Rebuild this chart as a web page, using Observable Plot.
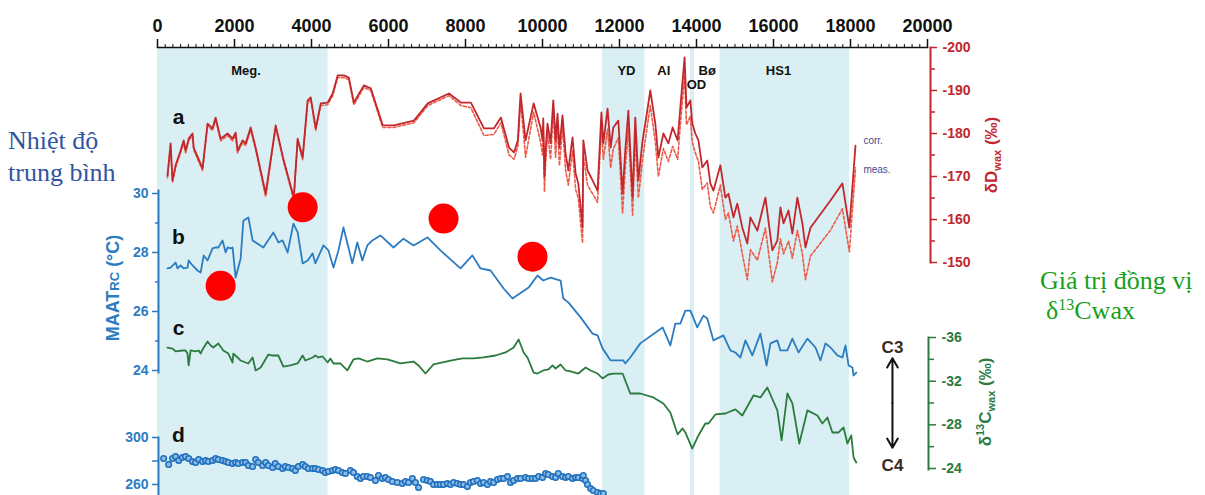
<!DOCTYPE html>
<html lang="vi">
<head>
<meta charset="utf-8">
<script src="https://cdn.jsdelivr.net/npm/d3@7"></script>
<script src="https://cdn.jsdelivr.net/npm/@observablehq/plot@0.6"></script>
<style>
html,body{margin:0;padding:0;background:#fff;}
#chart{position:relative;width:1205px;height:495px;overflow:hidden;background:#fff;}
#chart svg{position:absolute;left:0;top:0;}
.note{position:absolute;font-family:"Liberation Serif","Times New Roman",serif;font-size:26px;line-height:32px;white-space:nowrap;}
</style>
</head>
<body>
<div id="chart"></div>
<script>
// ---------------- DATA ----------------
// Shaded periods (years BP)
const bandStart = [0, 11560, 13840, 14610];
const bandEnd   = [4430, 12660, 13950, 17975];
const periodLabels = ["Meg.", "YD", "AI", "Bø", "HS1"];
const periodYears  = [2300, 12180, 13150, 14280, 16130];
const odLabel = "OD";
const odYear = 14000;

// (a) δD wax, corrected and measured
const redYear = [260,340,390,470,600,680,730,810,910,940,
  1170,1300,1430,1510,1640,1820,1950,2030,2080,2210,
  2290,2420,2550,2810,3070,3280,3540,3640,3770,3900,
  3980,4110,4240,4420,4550,4680,4840,4970,5100,5360,
  5540,5850,6140,6660,7020,7570,7880,8140,8480,8740,
  8920,9130,9260,9360,9430,9560,9770,9950,10000,10020,
  10050,10080,10130,10210,10280,10340,10390,10440,10520,10600,
  10670,10780,10860,10930,11040,11060,11170,11300,11430,11530,
  11580,11690,11770,11840,11970,12080,12150,12230,12340,12410,
  12490,12600,12670,12800,12930,13010,13140,13270,13380,13510,
  13580,13690,13740,13840,13890,13970,14050,14150,14280,14360,
  14440,14620,14750,14830,14960,15060,15190,15320,15400,15580,
  15790,15970,16100,16180,16260,16390,16490,16620,16750,16830,
  16960,17480,17790,17970,18130];
const redCorr = [-170.2,-177.7,-169.1,-172.6,-176.0,-178.4,-176.0,-178.8,-180.0,-176.7,
  -171.9,-182.3,-181.2,-183.7,-178.8,-180.0,-178.8,-180.2,-176.0,-178.4,
  -177.7,-181.4,-176.7,-166.0,-181.9,-173.7,-165.1,-178.8,-174.4,-187.7,
  -188.4,-181.2,-187.0,-187.2,-189.3,-193.5,-193.5,-193.0,-187.2,-191.2,
  -190.5,-181.9,-181.9,-183.0,-187.0,-189.3,-187.2,-187.2,-181.2,-181.2,
  -183.7,-176.7,-175.6,-178.4,-189.3,-178.4,-187.0,-181.4,-178.4,-183.5,
  -170.0,-176.0,-182.3,-177.7,-187.7,-178.4,-184.6,-176.7,-184.2,-175.3,
  -171.4,-179.1,-170.7,-168.4,-158.1,-178.4,-171.4,-169.1,-166.7,-184.9,
  -177.7,-185.8,-176.7,-181.4,-183.0,-166.0,-176.0,-185.3,-165.1,-183.7,
  -169.1,-178.4,-182.3,-190.0,-182.3,-174.4,-180.0,-177.7,-181.4,-178.4,
  -186.0,-197.7,-186.0,-187.7,-182.3,-180.0,-178.4,-172.1,-173.7,-168.4,
  -166.7,-172.6,-165.1,-166.0,-160.5,-163.7,-158.1,-154.4,-160.5,-157.4,
  -165.1,-152.8,-155.1,-162.8,-159.1,-162.1,-156.7,-165.1,-159.1,-153.5,
  -158.1,-164.4,-168.4,-158.1,-177.2];
const redMeas = [-169.7,-177.2,-168.6,-172.1,-175.5,-177.9,-175.5,-178.3,-179.5,-176.2,
  -171.4,-181.8,-180.7,-183.2,-178.3,-179.5,-178.3,-179.7,-175.5,-177.9,
  -177.2,-180.9,-176.2,-165.3,-181.4,-173.2,-164.6,-178.3,-173.9,-187.2,
  -187.9,-180.7,-186.5,-186.7,-188.8,-193.0,-193.0,-192.5,-186.7,-190.7,
  -190.0,-181.4,-181.4,-182.5,-186.5,-188.8,-186.5,-186.0,-179.5,-179.8,
  -182.5,-175.0,-174.0,-177.0,-187.5,-174.5,-185.0,-178.0,-175.0,-181.0,
  -166.5,-173.0,-180.0,-174.0,-185.5,-174.5,-182.0,-172.5,-181.5,-171.5,
  -168.0,-176.0,-167.0,-165.0,-154.5,-175.0,-168.0,-166.0,-164.0,-181.5,
  -174.0,-181.0,-172.0,-176.5,-179.0,-161.5,-172.0,-181.0,-161.0,-179.0,
  -165.0,-174.0,-178.5,-186.5,-178.0,-170.0,-176.5,-173.5,-177.0,-174.0,
  -182.0,-193.5,-182.0,-184.0,-178.0,-175.5,-173.5,-167.0,-168.5,-163.0,
  -161.5,-168.0,-160.0,-161.5,-155.0,-158.5,-152.0,-146.0,-153.0,-150.5,
  -158.0,-145.5,-150.0,-155.5,-152.0,-155.0,-151.0,-157.5,-152.0,-146.0,
  -151.5,-157.5,-162.5,-152.5,-172.0];

// (b) MAAT_RC (°C)
const blueYear = [260,340,470,520,600,680,780,810,910,1040,
  1120,1200,1300,1430,1510,1580,1690,1770,1820,1900,
  1950,2030,2160,2230,2360,2470,2750,3010,3140,3250,
  3380,3530,3640,3770,3900,4030,4100,4310,4440,4570,
  4700,4830,4960,5060,5190,5320,5450,5580,5790,6130,
  6390,6650,7010,7350,7870,8180,8390,8650,8990,9220,
  9640,9870,10020,10210,10470,10540,10670,10990,11300,11430,
  11560,11770,12100,12150,12280,12540,13120,13320,13450,13580,
  13710,13840,14020,14180,14280,14440,14700,14880,15010,15140,
  15270,15450,15660,15820,15920,16100,16180,16360,16490,16650,
  16880,17090,17220,17350,17480,17660,17790,17870,17950,18050,
  18080,18150];
const blueMaat = [27.46,27.49,27.66,27.46,27.56,27.46,27.49,27.73,27.56,27.39,
  27.32,27.90,27.73,28.14,28.17,28.17,28.41,28.00,28.17,28.14,
  28.17,27.15,27.80,29.08,29.19,28.41,28.17,28.68,28.34,28.41,
  28.00,28.98,28.68,27.63,27.73,27.97,27.63,28.24,28.07,27.49,
  28.07,28.85,28.17,27.63,28.34,27.73,28.24,28.41,28.58,28.17,
  28.47,28.24,28.51,28.07,27.46,27.90,27.46,27.39,26.78,26.44,
  26.81,27.22,27.05,27.15,27.05,26.44,26.31,25.80,25.25,25.19,
  24.75,24.34,24.34,24.24,24.44,24.92,25.46,24.85,25.59,25.59,
  26.03,26.03,25.46,25.86,25.76,25.02,25.19,24.68,24.61,24.44,
  25.02,24.51,25.25,24.17,24.92,25.02,24.68,24.68,25.08,24.61,
  25.08,24.78,24.34,24.92,24.78,24.51,24.44,24.85,24.17,24.10,
  23.83,23.93];

// (c) δ13C wax (‰)
const greenYear = [260,390,470,650,730,780,810,860,990,1070,
  1120,1170,1300,1380,1450,1580,1710,1840,1950,1970,
  2080,2160,2290,2360,2470,2550,2680,2880,2990,3140,
  3270,3450,3640,3770,3840,4030,4100,4180,4290,4420,
  4490,4570,4750,4930,5090,5220,5450,5710,5970,6310,
  6650,6780,6960,7170,7610,7920,8210,8470,8780,9040,
  9250,9380,9510,9610,9770,9870,10020,10150,10260,10340,
  10470,10600,10730,10930,11120,11250,11430,11560,11710,11840,
  12080,12280,12540,12880,13140,13320,13510,13640,13710,13890,
  14050,14230,14310,14490,14750,15010,15190,15480,15660,15840,
  16100,16210,16360,16490,16670,16880,17140,17270,17400,17530,
  17690,17820,17920,18020,18080,18150];
const greenD13C = [-35.08,-34.99,-34.72,-34.81,-34.81,-34.53,-33.44,-34.81,-34.72,-34.81,
  -34.53,-34.90,-35.63,-35.27,-35.08,-35.45,-34.81,-34.53,-33.71,-34.53,
  -34.17,-33.89,-33.71,-33.62,-34.17,-32.98,-33.25,-34.44,-34.35,-34.35,
  -33.34,-33.44,-33.62,-34.35,-33.89,-34.17,-34.35,-34.17,-34.26,-33.71,
  -34.08,-33.62,-33.62,-32.98,-33.99,-34.08,-33.80,-34.08,-33.99,-33.62,
  -33.80,-33.44,-32.70,-33.53,-33.89,-34.08,-34.08,-34.17,-34.35,-34.63,
  -35.08,-35.82,-34.63,-34.17,-32.79,-32.70,-32.98,-33.07,-33.44,-33.16,
  -33.53,-32.98,-32.89,-32.70,-33.25,-32.98,-32.70,-32.25,-32.61,-32.70,
  -32.70,-30.87,-30.87,-30.51,-29.96,-29.13,-27.12,-27.67,-27.30,-25.83,
  -27.03,-28.12,-28.12,-28.95,-29.04,-29.41,-28.86,-30.69,-30.51,-31.42,
  -29.32,-26.57,-30.87,-29.96,-26.29,-29.32,-28.86,-28.12,-28.67,-27.30,
  -27.30,-27.76,-26.29,-27.03,-25.01,-24.55];

// (d) dotted record
const dYear = [160,290,390,470,550,650,730,810,910,990,
  1070,1170,1250,1320,1430,1510,1580,1690,1770,1840,
  1950,2030,2100,2210,2290,2360,2470,2550,2620,2730,
  2810,2880,2990,3060,3140,3250,3320,3400,3510,3580,
  3660,3770,3840,3920,4030,4100,4180,4290,4360,4440,
  4550,4620,4700,4800,4880,5010,5090,5190,5270,5350,
  5450,5530,5660,5740,5840,5920,6000,6100,6230,6360,
  6440,6520,6620,6700,6780,6910,7010,7090,7170,7270,
  7350,7430,7530,7610,7690,7790,7870,7950,8050,8130,
  8210,8310,8390,8470,8570,8650,8730,8830,8910,8990,
  9090,9170,9250,9350,9430,9560,9640,9740,9820,9900,
  10000,10080,10150,10260,10340,10410,10520,10600,10670,10780,
  10860,10930,11040,11060,11120,11170,11250,11320,11430,11510,11580];
const dValue = [282.1,277.0,282.1,283.8,280.4,283.0,283.8,282.1,279.6,278.7,
  281.3,279.6,280.4,279.6,280.4,282.1,281.3,280.4,279.6,278.7,
  277.9,278.7,277.9,278.7,278.7,276.2,275.3,281.3,278.7,276.2,
  278.7,276.2,274.5,277.9,275.3,273.6,275.3,274.5,273.6,271.9,
  275.3,277.0,275.3,273.6,273.6,273.6,272.8,271.9,270.2,271.1,
  271.9,272.8,271.9,270.2,269.4,271.9,270.2,266.8,265.1,266.8,
  266.8,266.0,263.4,267.7,265.1,266.0,264.3,262.6,261.7,260.9,
  262.6,261.7,265.1,261.7,257.4,264.3,263.4,262.6,260.0,260.0,
  260.0,260.0,260.9,260.0,261.7,260.9,260.0,260.0,258.3,261.7,
  262.6,263.4,260.9,261.7,260.0,262.6,261.7,264.3,265.1,265.1,
  266.8,261.7,263.4,265.1,265.1,266.0,265.1,265.1,265.1,266.8,
  266.0,269.4,268.5,266.8,266.0,269.4,266.8,266.0,266.8,265.1,
  266.0,266.0,265.1,267.7,263.4,260.0,256.6,254.9,253.2,252.3,252.3];

// Tick values
const xMajorTicks = [0,2000,4000,6000,8000,10000,12000,14000,16000,18000,20000];
const dDTicks = [-200,-190,-180,-170,-160,-150];
const maatTicks = [24,26,28,30];
const d13CTicks = [-36,-32,-28,-24];
const dTicks = [260,280,300];

// Highlight markers (year, MAAT)
const markYear = [3770, 7430, 9740, 1640];
const markMaat = [29.53, 29.15, 27.86, 26.87];

// ---------------- STYLE / LAYOUT ----------------
const RED = "#c1272d", MEAS = "#ee5a48", BLUE = "#2c7cc1", GREEN = "#2b7a3e",
      BAND = "#d9eff3", INK = "#111", BROWN = "#3b2a20";
const FONT = "'Liberation Sans', Arial, sans-serif";
const W = 1205, H = 495, XL = 157, XR = 927;

const bands = bandStart.map((s, i) => ({start: s, end: bandEnd[i]}));
const periods = periodLabels.map((t, i) => ({x: periodYears[i], t}));
const redData = redYear.map((y, i) => ({year: y, corr: redCorr[i], meas: redMeas[i]}));
const blueData = blueYear.map((y, i) => ({year: y, v: blueMaat[i]}));
const greenData = greenYear.map((y, i) => ({year: y, v: greenD13C[i]}));
const dData = dYear.map((y, i) => ({year: y, v: dValue[i]}));
const marks = markYear.map((y, i) => ({year: y, v: markMaat[i]}));

function layer(o) {
  const xo = Object.assign({domain: [0, 20000], range: [XL, XR], label: null}, o.x || {});
  const opts = Object.assign({
    width: W, height: H,
    style: {background: "transparent", overflow: "visible", fontFamily: FONT}
  }, o);
  opts.x = xo;
  return Plot.plot(opts);
}

function vTitle(svg, x, y, color, size, parts) {
  const t = d3.select(svg).append("text")
    .attr("transform", `translate(${x},${y}) rotate(-90)`)
    .attr("text-anchor", "middle").attr("fill", color)
    .attr("font-weight", "bold").attr("font-size", size)
    .attr("font-family", FONT);
  for (const p of parts) {
    const s = t.append("tspan").text(p.t);
    if (p.size) s.attr("font-size", p.size);
    if (p.dy) s.attr("dy", p.dy);
  }
}

const chart = document.getElementById("chart");

// Base layer: shaded periods + top time axis
const base = layer({
  marginTop: 47, marginBottom: 0, marginLeft: XL, marginRight: W - XR,
  marks: [
    Plot.rect(bands, {x1: "start", x2: "end", fill: BAND}),
    Plot.axisX({anchor: "top", ticks: d3.range(0, 20001, 200), tickSize: 4, tickFormat: () => "", label: null, stroke: INK}),
    Plot.axisX({anchor: "top", ticks: xMajorTicks, tickSize: 9, tickPadding: 7, strokeWidth: 1.5,
      tickFormat: d => String(d), fontSize: 18, fontWeight: "bold", fill: INK, stroke: INK, label: null}),
    Plot.frame({anchor: "top", stroke: INK, strokeWidth: 1.5}),
    Plot.text(periods, {x: "x", text: "t", frameAnchor: "top", dy: 18, fontSize: 13, fontWeight: "bold", fill: INK}),
    Plot.text([odLabel], {x: () => odYear, text: d => d, frameAnchor: "top", dy: 32, fontSize: 13, fontWeight: "bold", fill: INK})
  ]
});
chart.appendChild(base);

// (a) δD layer
const redLayer = layer({
  marginTop: 47, marginBottom: H - 262, marginLeft: XL, marginRight: W - 930,
  x: {axis: null},
  y: {domain: [-200, -150], range: [47, 262]},
  marks: [
    Plot.line(redData, {x: "year", y: "meas", stroke: MEAS, strokeWidth: 1.6, strokeDasharray: "3,2"}),
    Plot.line(redData, {x: "year", y: "corr", stroke: RED, strokeWidth: 1.8}),
    Plot.axisY({anchor: "right", ticks: d3.range(-195, -150, 10), tickSize: 4, tickFormat: () => "", color: RED, strokeWidth: 1.5, label: null}),
    Plot.axisY({anchor: "right", ticks: dDTicks, tickSize: 6, tickPadding: 6, tickFormat: d => String(d),
      fontSize: 14, fontWeight: "bold", color: RED, strokeWidth: 1.5, label: null}),
    Plot.frame({anchor: "right", stroke: RED, strokeWidth: 2}),
    Plot.text(["a"], {x: () => 545, y: () => -183.7, text: d => d, fontSize: 21, fontWeight: "bold", fill: INK}),
    Plot.text(["corr.", "meas."], {x: () => 18335, y: (d, i) => i ? -171.6 : -178.4, text: d => d,
      textAnchor: "start", fontSize: 10, fill: "#4a4a8a"})
  ]
});
vTitle(redLayer, 997, 155, RED, 17, [{t: "δD"}, {t: "wax", size: 11, dy: 4}, {t: " (‰)", dy: -4}]);
chart.appendChild(redLayer);

// (b) MAAT layer
const blueLayer = layer({
  marginTop: 190, marginBottom: H - 372, marginLeft: 158, marginRight: W - XR,
  x: {axis: null},
  y: {domain: [24, 30], range: [370, 193]},
  marks: [
    Plot.line(blueData, {x: "year", y: "v", stroke: BLUE, strokeWidth: 1.8}),
    Plot.axisY({anchor: "left", ticks: [25, 27, 29], tickSize: 3, tickFormat: () => "", color: BLUE, strokeWidth: 1.5, label: null}),
    Plot.axisY({anchor: "left", ticks: maatTicks, tickSize: 6, tickPadding: 4, tickFormat: d => String(d),
      fontSize: 14, fontWeight: "bold", color: BLUE, strokeWidth: 1.5, label: null}),
    Plot.frame({anchor: "left", stroke: BLUE, strokeWidth: 2}),
    Plot.text(["b", "c"], {x: () => 545, y: (d, i) => i ? 25.42 : 28.51, text: d => d, fontSize: 21, fontWeight: "bold", fill: INK})
  ]
});
vTitle(blueLayer, 119, 288, BLUE, 18, [{t: "MAAT"}, {t: "RC", size: 13}, {t: " (°C)"}]);
chart.appendChild(blueLayer);

// (c) δ13C layer
const greenLayer = layer({
  marginTop: 337, marginBottom: H - 469, marginLeft: XL, marginRight: W - 928,
  x: {axis: null},
  y: {domain: [-36, -24], range: [337, 468]},
  marks: [
    Plot.line(greenData, {x: "year", y: "v", stroke: GREEN, strokeWidth: 1.8}),
    Plot.axisY({anchor: "right", ticks: [-34, -30, -26], tickSize: 5, tickFormat: () => "", color: GREEN, strokeWidth: 1.5, label: null}),
    Plot.axisY({anchor: "right", ticks: d13CTicks, tickSize: 7, tickPadding: 6, tickFormat: d => String(d),
      fontSize: 14, fontWeight: "bold", color: GREEN, strokeWidth: 1.5, label: null}),
    Plot.frame({anchor: "right", stroke: GREEN, strokeWidth: 2}),
    Plot.arrow([-34.1, -25.9], {x1: () => 19090, x2: () => 19090, y1: () => -30.0, y2: d => d,
      stroke: INK, strokeWidth: 2, headLength: 8}),
    Plot.text(["C3", "C4"], {x: () => 19090, y: (d, i) => i ? -24.28 : -35.08, text: d => d,
      fontSize: 17, fontWeight: "bold", fill: BROWN})
  ]
});
vTitle(greenLayer, 991, 402, GREEN, 17, [{t: "δ"}, {t: "13", size: 11, dy: -7}, {t: "C", dy: 7},
  {t: "wax", size: 11, dy: 4}, {t: " (‰)", dy: -4}]);
chart.appendChild(greenLayer);

// (d) dotted record layer
const dLayer = layer({
  marginTop: 437, marginBottom: 0, marginLeft: 158, marginRight: W - XR,
  x: {axis: null},
  y: {domain: [260, 300], range: [484, 437]},
  marks: [
    Plot.axisY({anchor: "left", ticks: dTicks, tickSize: 6, tickPadding: 4,
      tickFormat: d => d === 280 ? "" : String(d),
      fontSize: 14, fontWeight: "bold", color: BLUE, strokeWidth: 1.5, label: null}),
    Plot.frame({anchor: "left", stroke: BLUE, strokeWidth: 2}),
    Plot.dot(dData, {x: "year", y: "v", r: 2.8, stroke: "#1f6fbd", fill: "#8cbbe6", strokeWidth: 1.5}),
    Plot.text(["d", "e"], {x: () => 545, y: (d, i) => i ? 245.5 : 301.7, text: d => d, fontSize: 21, fontWeight: "bold", fill: INK})
  ]
});
chart.appendChild(dLayer);

// Highlight markers on top
const markLayer = layer({
  marginTop: 190, marginBottom: H - 372, marginLeft: 158, marginRight: W - XR,
  x: {axis: null},
  y: {domain: [24, 30], range: [370, 193], axis: null},
  marks: [
    Plot.dot(marks, {x: "year", y: "v", r: 15, fill: "#ff0000", stroke: "none"})
  ]
});
chart.appendChild(markLayer);

// Side notes
const n1 = document.createElement("div");
n1.className = "note";
n1.style.cssText = "left:8px;top:125px;color:#2f55a2;";
n1.innerHTML = "Nhiệt độ<br>trung bình";
chart.appendChild(n1);
const n2 = document.createElement("div");
n2.className = "note";
n2.style.cssText = "left:1040px;top:265px;color:#16a01c;";
n2.innerHTML = "Giá trị đồng vị";
chart.appendChild(n2);
const n3 = document.createElement("div");
n3.className = "note";
n3.style.cssText = "left:1046px;top:295px;color:#16a01c;";
n3.innerHTML = "δ<span style=\"font-size:16px;vertical-align:9px;line-height:0\">13</span>Cwax";
chart.appendChild(n3);
</script>
</body>
</html>
